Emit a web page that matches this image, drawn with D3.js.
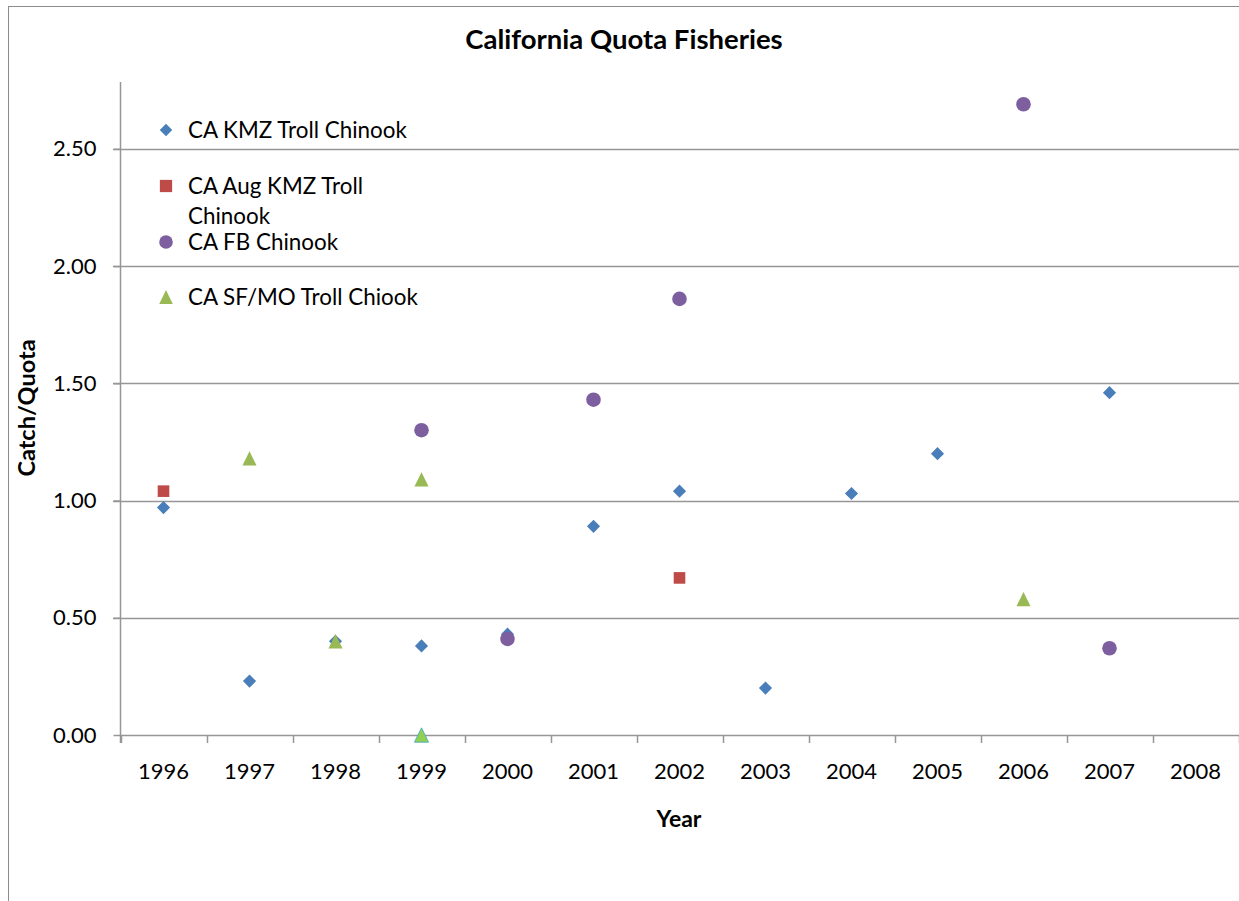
<!DOCTYPE html>
<html><head><meta charset="utf-8">
<script src="https://cdn.jsdelivr.net/npm/d3@7"></script>
<style>
html,body{margin:0;padding:0;background:#fff;}
svg{display:block;}
text{font-family:Lato,"Open Sans",sans-serif;fill:#000;}
</style></head>
<body>
<svg id="chart" width="1239" height="901"></svg>
<script>
const years = ["1996","1997","1998","1999","2000","2001","2002","2003","2004","2005","2006","2007","2008"];
const yTicks = [0, 0.5, 1.0, 1.5, 2.0, 2.5];
const seriesNames = ["CA KMZ Troll Chinook","CA Aug KMZ Troll Chinook","CA FB Chinook","CA SF/MO Troll Chiook"];
// [year, value]
const kmzTroll = [["1996",0.97],["1997",0.23],["1998",0.40],["1999",0.38],["2000",0.43],["2001",0.89],["2002",1.04],["2003",0.20],["2004",1.03],["2005",1.20],["2007",1.46]];
const augKmzTroll = [["1996",1.04],["2002",0.67]];
const fbChinook = [["1999",1.30],["2000",0.41],["2001",1.43],["2002",1.86],["2006",2.69],["2007",0.37]];
const sfmoTroll = [["1997",1.18],["1998",0.40],["1999",1.09],["1999",0.00],["2006",0.58]];

const svg = d3.select("#chart");
// outer chart border
svg.append("rect").attr("x",8.5).attr("y",6.5).attr("width",1300).attr("height",1000)
  .attr("fill","none").attr("stroke","#8c8c8c").attr("stroke-width",1);

const x = d3.scaleBand().domain(years).range([120.5,1238.5]).padding(0);
const y = d3.scaleLinear().domain([0,2.785]).range([735,82]);

// gridlines
svg.append("g").selectAll("line").data(yTicks.filter(d=>d>0)).join("line")
  .attr("x1",113).attr("x2",1239).attr("y1",d=>Math.round(y(d))+0.5).attr("y2",d=>Math.round(y(d))+0.5)
  .attr("stroke","#969696").attr("stroke-width",1.5);

// y axis
const yAxis = svg.append("g").attr("transform","translate(120.5,0)")
  .call(d3.axisLeft(y).tickValues(yTicks).tickFormat(d3.format(".2f")).tickSize(7).tickPadding(17));
yAxis.select(".domain").attr("stroke","#969696").attr("stroke-width",1.5).attr("d","M0,82V743");
yAxis.selectAll(".tick line").attr("stroke","#969696").attr("stroke-width",1.5);
yAxis.selectAll(".tick text").attr("font-size",22).attr("font-family","Lato").attr("fill","#000");

// x axis
const xAxis = svg.append("g").attr("transform","translate(0,735.5)")
  .call(d3.axisBottom(x).tickSize(0).tickPadding(28));
xAxis.select(".domain").attr("stroke","#969696").attr("stroke-width",1.5).attr("d","M120.5,0H1239");
xAxis.selectAll(".tick text").attr("font-size",22).attr("font-family","Lato").attr("fill","#000");
// category boundary tick marks
const bounds = years.map(d=>x(d)).concat([x(years[years.length-1])+x.bandwidth()]);
svg.append("g").selectAll("line").data(bounds).join("line")
  .attr("x1",d=>Math.round(d)+0.5).attr("x2",d=>Math.round(d)+0.5).attr("y1",735).attr("y2",743)
  .attr("stroke","#969696").attr("stroke-width",1.5);

const cx = d => x(d[0]) + x.bandwidth()/2;
const cy = d => y(d[1]);
const sym = (type,size) => d3.symbol().type(type).size(size)();

const colors = ["#4A7EBB","#BE4B48","#7D5FA0","#98B954"];

svg.append("g").selectAll("path").data(kmzTroll).join("path")
  .attr("d", sym(d3.symbolDiamond2,110))
  .attr("transform",d=>`translate(${cx(d)},${cy(d)})`).attr("fill",colors[0]);
svg.append("g").selectAll("path").data(augKmzTroll).join("path")
  .attr("d", sym(d3.symbolSquare,135))
  .attr("transform",d=>`translate(${cx(d)},${cy(d)})`).attr("fill",colors[1]);
svg.append("g").selectAll("circle").data(fbChinook).join("circle")
  .attr("cx",cx).attr("cy",cy).attr("r",7.3).attr("fill",colors[2]);
svg.append("g").selectAll("path").data(sfmoTroll).join("path")
  .attr("d", sym(d3.symbolTriangle,118))
  .attr("transform",d=>`translate(${cx(d)},${cy(d)+2.4}) scale(0.85,1)`)
  .attr("fill",d=>d[1]===0 ? "#92D050" : colors[3])
  .attr("stroke",d=>d[1]===0 ? "#4BACC6" : "none").attr("stroke-width",1);

// legend
const leg = svg.append("g");
const legRows = [
  {y:130, lines:["CA KMZ Troll Chinook"]},
  {y:186, lines:["CA Aug KMZ Troll","Chinook"]},
  {y:242, lines:["CA FB Chinook"]},
  {y:297, lines:["CA SF/MO Troll Chiook"]}
];
legRows.forEach((r,i)=>{
  const mx=166;
  if(i===0) leg.append("path").attr("d",sym(d3.symbolDiamond2,100)).attr("transform",`translate(${mx},${r.y})`).attr("fill",colors[0]);
  if(i===1) leg.append("path").attr("d",sym(d3.symbolSquare,150)).attr("transform",`translate(${mx},${r.y})`).attr("fill",colors[1]);
  if(i===2) leg.append("circle").attr("cx",mx).attr("cy",r.y).attr("r",6.8).attr("fill",colors[2]);
  if(i===3) leg.append("path").attr("d",sym(d3.symbolTriangle,110)).attr("transform",`translate(${mx},${r.y+2.3})`+" scale(0.85,1)").attr("fill",colors[3]);
  r.lines.forEach((t,j)=>{
    leg.append("text").attr("x",188).attr("y",r.y+8+j*30).attr("font-size",22.4).text(t);
  });
});

// title & axis titles
svg.append("text").attr("x",624).attr("y",49).attr("text-anchor","middle")
  .attr("font-size",27.5).attr("font-weight","bold").text("California Quota Fisheries");
svg.append("text").attr("x",679).attr("y",827).attr("text-anchor","middle")
  .attr("font-size",23).attr("font-weight","bold").text("Year");
svg.append("text").attr("transform","translate(35,408) rotate(-90)").attr("text-anchor","middle")
  .attr("font-size",23.5).attr("font-weight","bold").text("Catch/Quota");
</script>
</body></html>
